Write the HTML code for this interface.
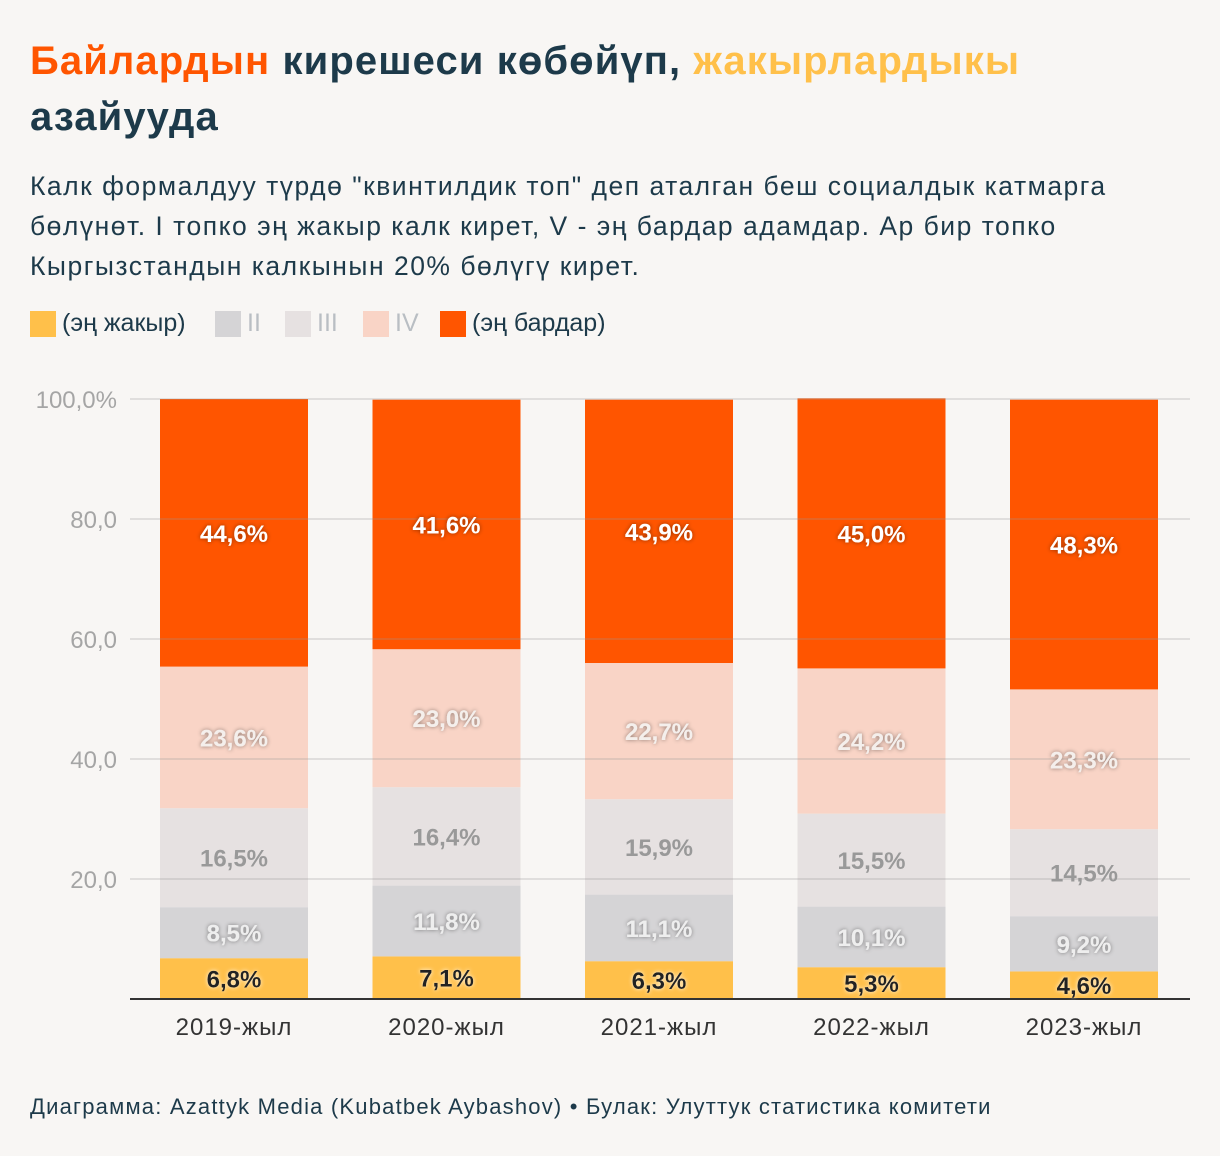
<!DOCTYPE html>
<html><head><meta charset="utf-8"><style>
body{margin:0;background:#f8f6f4;width:1220px;height:1156px;overflow:hidden;font-family:"Liberation Sans","DejaVu Sans",sans-serif;color:#1d3a4a}
.t{position:absolute;left:30px;top:33px;font-size:40px;letter-spacing:1.1px;font-weight:bold;line-height:56px;width:1180px}
.sub{position:absolute;left:30px;top:166px;font-size:26.5px;letter-spacing:1.5px;line-height:40px;width:1180px;white-space:nowrap}
.lg{position:absolute;top:309px;display:flex;align-items:center;font-size:25px}
.sw{width:26px;height:26px;margin-right:6px}
.ft{position:absolute;left:30px;top:1094px;font-size:22px;letter-spacing:1.2px}
</style></head><body>
<div class="t"><span style="color:#ff5500">Байлардын</span> кирешеси көбөйүп, <span style="color:#ffc04a">жакырлардыкы</span><br>азайууда</div>
<div class="sub">Калк формалдуу түрдө "квинтилдик топ" деп аталган беш социалдык катмарга<br>бөлүнөт. I топко эң жакыр калк кирет, V - эң бардар адамдар. Ар бир топко<br>Кыргызстандын калкынын 20% бөлүгү кирет.</div>
<div class="lg" style="left:30px"><div class="sw" style="background:#ffc04a"></div>(эң жакыр)</div>
<div class="lg" style="left:215px;color:#b9bec3"><div class="sw" style="background:#d5d4d6"></div>II</div>
<div class="lg" style="left:285px;color:#b9bec3"><div class="sw" style="background:#e6e1e1"></div>III</div>
<div class="lg" style="left:363px;color:#b9bec3"><div class="sw" style="background:#f9d4c6"></div>IV</div>
<div class="lg" style="left:440px"><div class="sw" style="background:#ff5500"></div>(эң бардар)</div>
<svg id="c" width="1220" height="1156" style="position:absolute;left:0;top:0">
<defs><filter id="sh" x="-20%" y="-50%" width="140%" height="200%"><feDropShadow dx="0" dy="0" stdDeviation="2" flood-color="#000" flood-opacity="0.45"/></filter>
<filter id="shl" x="-20%" y="-50%" width="140%" height="200%"><feDropShadow dx="0" dy="0" stdDeviation="2" flood-color="#fff" flood-opacity="0.9"/></filter></defs>
</svg>
<div class="ft">Диаграмма: Azattyk Media (Kubatbek Aybashov) • Булак: Улуттук статистика комитети</div>
<script>
const categories=["2019-жыл","2020-жыл","2021-жыл","2022-жыл","2023-жыл"];
const q1=[6.8,7.1,6.3,5.3,4.6];
const q2=[8.5,11.8,11.1,10.1,9.2];
const q3=[16.5,16.4,15.9,15.5,14.5];
const q4=[23.6,23.0,22.7,24.2,23.3];
const q5=[44.6,41.6,43.9,45.0,48.3];
const ticks=[20,40,60,80,100];
const tickLabels=["20,0","40,0","60,0","80,0","100,0%"];
const NS="http://www.w3.org/2000/svg",svg=document.getElementById('c');
const y=v=>999-v*6, x0=i=>160+i*212.5, bw=148;
function mk(t,a){const e=document.createElementNS(NS,t);for(const k in a)e.setAttribute(k,a[k]);svg.appendChild(e);return e;}
const series=[[q1,"#ffc04a","#222","shl","i"],[q2,"#d5d4d6","#eeeeee","sh","ii"],[q3,"#e6e1e1","#999","","iii"],[q4,"#f9d4c6","#f4efec","sh","iv"],[q5,"#ff5500","#fff","sh","v"]];
categories.forEach((c,i)=>{let base=0;
 series.forEach(s=>{const v=s[0][i];
  const r=mk('rect',{x:x0(i),y:y(base+v),width:bw,height:v*6,fill:s[1]});
  
  
  base+=v;});
});
ticks.forEach((t,k)=>{const l=mk('line',{x1:130,x2:1190,y1:y(t),y2:y(t),stroke:'#999',"stroke-opacity":0.25,"stroke-width":2});
 
 
 const tx=mk('text',{x:117,y:y(t)+9,"text-anchor":"end","font-size":24,fill:"#a5a5a5"});tx.textContent=tickLabels[k];
 
 });
const ax=mk('line',{x1:130,x2:1190,y1:999,y2:999,stroke:'#333',"stroke-width":2});


categories.forEach((c,i)=>{let base=0;
 series.forEach(s=>{const v=s[0][i];
  const t=mk('text',{x:x0(i)+bw/2,y:y(base+v/2)+9,"text-anchor":"middle","font-size":24,"font-weight":"bold",fill:s[2]});
  if(s[3])t.setAttribute('filter','url(#'+s[3]+')');
  t.textContent=v.toFixed(1).replace('.',',')+'%';
  
  
  base+=v;});
 const xl=mk('text',{x:x0(i)+bw/2,y:1035,"text-anchor":"middle","font-size":24,"letter-spacing":1,fill:"#333"});xl.textContent=c;
 
 
});
</script>
</body></html>
